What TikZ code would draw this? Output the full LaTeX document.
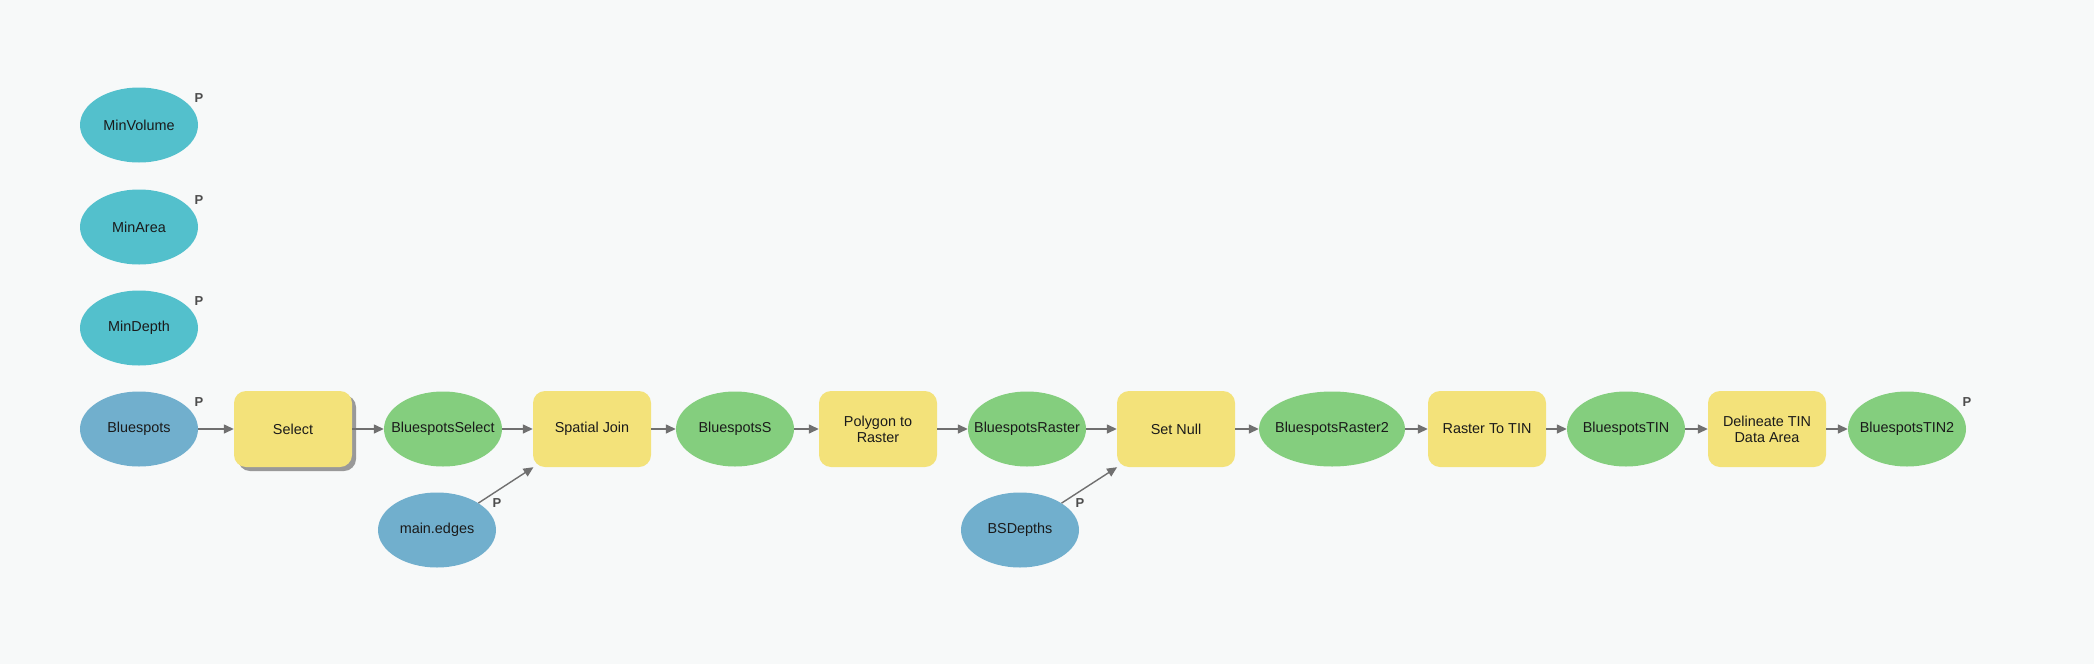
\documentclass[tikz,border=0pt]{standalone}
\usepackage{fontspec}
\setmainfont{Liberation Sans}
\usetikzlibrary{shapes.geometric, arrows.meta, shadows}
\definecolor{bgcolor}{RGB}{247, 249, 249}
\definecolor{inputblue}{RGB}{113, 175, 205}
\definecolor{varteal}{RGB}{83, 192, 204}
\definecolor{outgreen}{RGB}{132, 206, 126}
\definecolor{toolyellow}{RGB}{243, 226, 122}
\definecolor{arrowgray}{RGB}{112, 112, 112}
\definecolor{plabelgray}{RGB}{77, 77, 77}
\definecolor{darktext}{RGB}{26, 26, 26}

\begin{document}
\begin{tikzpicture}[x=1pt, y=-1pt,
	every node/.style={font=\fontsize{14.4}{16}\selectfont, text=darktext},
	dataoval/.style={ellipse, minimum width=118pt, minimum height=75pt, inner xsep=-20pt, inner ysep=0pt},
	toolbox/.style={rectangle, rounded corners=12pt, fill=toolyellow, minimum width=118pt, minimum height=76pt, align=center, inner sep=0pt},
	flow/.style={draw=arrowgray, line width=1.4pt, -{Triangle[length=10pt, width=9pt]}},
	plabel/.style={font=\fontsize{13}{13}\selectfont\bfseries, text=plabelgray}]
	\fill[bgcolor] (0,0) rectangle (2094,664);
	% model parameters
	\foreach \name/\y in {MinVolume/125, MinArea/227, MinDepth/328} {
		\node[dataoval, fill=varteal] (\name) at (139,\y) {\name};
		\node[plabel] (p\name) at ([shift={(60,-27)}]\name.center) {P};
	}
	% main chain
	\node[dataoval, fill=inputblue] (Bluespots) at (139,429) {Bluespots};
	\node[toolbox, drop shadow={shadow xshift=4pt, shadow yshift=-4pt, fill=black!40, opacity=1}] (Select) at (293,429) {Select};
	\node[dataoval, fill=outgreen] (BluespotsSelect) at (443,429) {BluespotsSelect};
	\node[toolbox] (SpatialJoin) at (592,429) {Spatial Join};
	\node[dataoval, fill=outgreen] (BluespotsS) at (735,429) {BluespotsS};
	\node[toolbox] (PolyToRaster) at (878,429) {Polygon to\\Raster};
	\node[dataoval, fill=outgreen] (BluespotsRaster) at (1027,429) {BluespotsRaster};
	\node[toolbox] (SetNull) at (1176,429) {Set Null};
	\node[dataoval, fill=outgreen, minimum width=146pt] (BluespotsRaster2) at (1332,429) {BluespotsRaster2};
	\node[toolbox] (RasterToTIN) at (1487,429) {Raster To TIN};
	\node[dataoval, fill=outgreen] (BluespotsTIN) at (1626,429) {BluespotsTIN};
	\node[toolbox] (DelineateTIN) at (1767,429) {Delineate TIN\\Data Area};
	\node[dataoval, fill=outgreen] (BluespotsTIN2) at (1907,429) {BluespotsTIN2};
	% side inputs
	\node[dataoval, fill=inputblue] (mainedges) at (437,530) {main.edges};
	\node[dataoval, fill=inputblue] (BSDepths) at (1020,530) {BSDepths};
	\foreach \name in {Bluespots, mainedges, BSDepths, BluespotsTIN2} {
		\node[plabel] (p\name) at ([shift={(60,-27)}]\name.center) {P};
	}
	\foreach \a/\b in {Bluespots/Select, Select/BluespotsSelect, BluespotsSelect/SpatialJoin, SpatialJoin/BluespotsS, BluespotsS/PolyToRaster, PolyToRaster/BluespotsRaster, BluespotsRaster/SetNull, SetNull/BluespotsRaster2, BluespotsRaster2/RasterToTIN, RasterToTIN/BluespotsTIN, BluespotsTIN/DelineateTIN, DelineateTIN/BluespotsTIN2} {
		\draw[flow] (\a) -- (\b);
	}
	\draw[flow] (mainedges) -- (SpatialJoin);
	\draw[flow] (BSDepths) -- (SetNull);
\end{tikzpicture}
\end{document}
